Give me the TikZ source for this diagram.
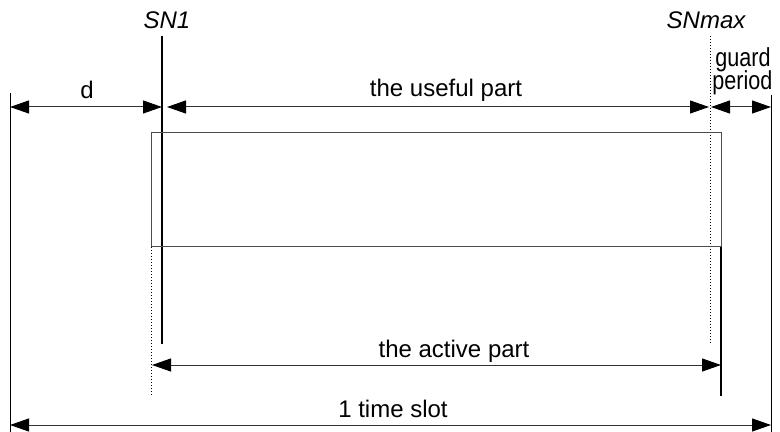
\documentclass[tikz,border=0pt]{standalone}
\usepackage{fontspec}
\usepackage{graphicx}
\setmainfont{Liberation Sans}
\usetikzlibrary{arrows.meta,positioning}
\tikzset{>={Triangle[length=9.5pt,width=6.5pt,color=black]}}
\newcommand{\narrowtext}[1]{\scalebox{0.83}[1]{#1}}

\begin{document}
\begin{tikzpicture}[x=0.5pt,y=-0.5pt,
    dim/.style={<->,line width=0.5pt,draw=black!80},
    lbl/.style={font=\fontsize{12}{14}\selectfont,inner sep=0pt,anchor=base},
    narrow/.style={font=\fontsize{13}{14}\selectfont,inner sep=0pt,anchor=base west}]
  \useasboundingbox (0,0) rectangle (780,432);

  % slot edges and symbol marks
  \draw [line width=0.5pt] (10,93) -- (10,432);
  \draw [line width=0.5pt] (771,95) -- (771,432);
  \draw [line width=0.8pt] (162,36) -- (162,344);
  \draw [line width=0.5pt,densely dotted] (710,36) -- (710,344);

  % the symbol block
  \draw [line width=0.5pt,draw=black!70] (151,247) |- (721,133) -- (721,247) -- cycle;
  \draw [line width=0.5pt,densely dotted] (151,247) -- (151,395);
  \draw [line width=1.1pt] (721,247) -- (721,396);

  % arrow ends
  \coordinate (dL) at (10,107);
  \coordinate (dR) at (162,107);
  \coordinate (useL) at (167,107);
  \coordinate (useR) at (709,107);
  \coordinate (guardL) at (711,107);
  \coordinate (guardR) at (771,107);
  \coordinate (actL) at (152,365);
  \coordinate (actR) at (721,365);
  \coordinate (slotL) at (10,425);
  \coordinate (slotR) at (771,425);

  \draw [dim] (dL) -- (dR);
  \draw [dim] (useL) -- (useR);
  \draw [dim] (guardL) -- (guardR);
  \draw [dim] (actL) -- (actR);
  \draw [dim] (slotL) -- (slotR);

  % labels
  \node [lbl,font=\fontsize{12}{14}\selectfont\itshape] (sn1) at (167,29) {SN1};
  \node [lbl,font=\fontsize{12}{14}\selectfont\itshape] (snmax) at (706,29) {SNmax};
  \node [lbl] (dlab) at (87,99) {d};
  \node [lbl] (uselab) at (446,97) {the useful part};
  \node [lbl] (actlab) at (454,357) {the active part};
  \node [lbl] (slotlab) at (393,417) {1 time slot};
  \node [narrow] (guardlab) at (715,67) {\narrowtext{guard}};
  \node [narrow] (periodlab) at (712,90) {\narrowtext{period}};
\end{tikzpicture}
\end{document}
